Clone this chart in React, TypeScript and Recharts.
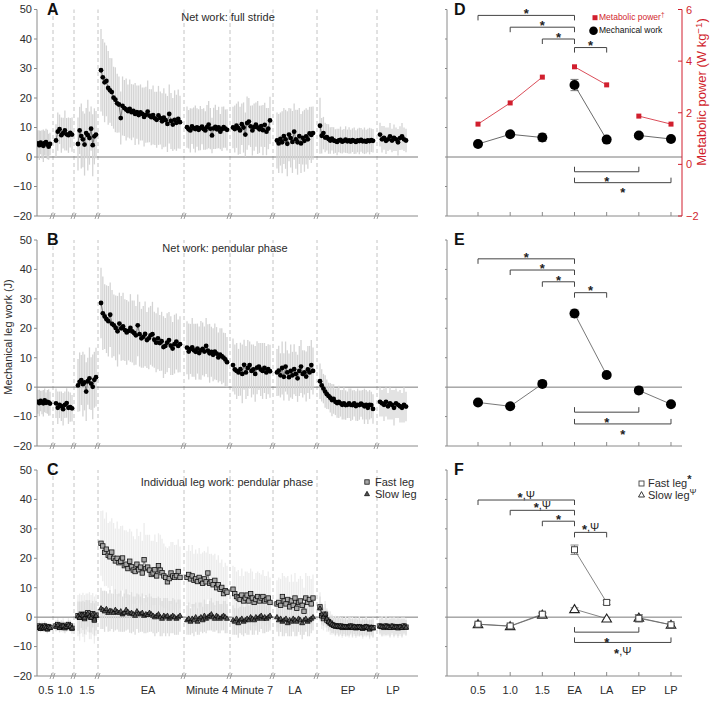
import React from 'react';
import { ComposedChart, Scatter, XAxis, YAxis, ErrorBar, ReferenceLine, ReferenceDot } from 'recharts';

const FONT = '"Liberation Sans", Arial, Helvetica, sans-serif';
const AXIS = '#8a8a8a';
const TXT = '#2b2b2b';
const RED = '#d11f2e';

// ---------------- stride-by-stride data (left panels) ----------------
const groupLabels = ['0.5', '1.0', '1.5', 'EA', 'Minute 4', 'Minute 7', 'LA', 'EP', 'LP'];

// A: net work, full stride
const aV05 = [4.6, 4.0, 4.9, 4.3, 3.8, 4.7, 5.0, 4.2, 3.5, 4.4];
const aS05 = [4.5, 5.0, 4.0, 4.8, 5.5, 4.2, 4.6, 5.0, 4.4, 3.8];
const aV10 = [5.6, 8.6, 9.4, 7.4, 8.1, 9.0, 7.7, 7.4, 8.2, 7.6];
const aS10 = [5.5, 6.5, 5.0, 6.0, 5.2, 6.8, 5.5, 6.0, 5.0, 5.8];
const aV15 = [4.4, 9.0, 7.1, 6.0, 4.2, 8.1, 7.4, 6.4, 9.6, 4.0, 7.0, 7.6];
const aS15 = [9.0, 8.0, 11.0, 9.5, 10.5, 8.5, 12.0, 9.0, 7.5, 10.5, 9.5, 8.0];
const aVEA = [29.4, 27.0, 25.3, 25.8, 23.4, 22.6, 22.0, 20.1, 19.4, 18.2, 17.8, 13.2, 17.3, 16.6, 16.1, 15.6, 16.3, 15.2, 15.6, 14.6, 15.2, 14.2, 15.1, 14.6, 13.6, 14.3, 15.4, 14.0, 13.5, 14.2, 13.1, 12.6, 14.1, 13.2, 12.1, 13.3, 12.5, 11.2, 14.6, 12.2, 11.0, 12.6, 11.6, 12.9, 11.8];
const aSEA = [14, 13, 13.5, 12, 12.5, 11, 11.5, 10.5, 11, 10, 9.5, 9, 10, 9.5, 10.5, 9, 10, 9.5, 9, 10.5, 9, 10, 9.5, 9, 10, 9.5, 10.5, 9, 9.5, 10, 9, 9.5, 10, 9, 9.5, 10, 9, 9.5, 10, 9.5, 9, 10, 9.5, 10, 9];
const aVM4 = [10.1, 9.4, 9.0, 10.4, 9.8, 9.5, 10.0, 9.2, 9.8, 10.3, 9.5, 9.0, 10.1, 11.0, 9.6, 7.3, 9.7, 10.2, 9.4, 10.0, 8.6, 9.5, 10.1, 9.6, 9.2];
const aSM4 = [7, 6.5, 7.5, 6, 7, 8, 6.5, 7, 7.5, 6, 7, 6.5, 7.5, 8, 7, 6, 7, 7.5, 6.5, 7, 6, 7.5, 7, 6.5, 7];
const aVM7 = [10.0, 9.5, 10.6, 9.8, 9.0, 11.1, 10.0, 7.6, 11.5, 12.0, 10.4, 9.0, 10.1, 11.0, 10.0, 9.4, 10.5, 9.1, 10.9, 8.6, 9.6, 12.4];
const aSM7 = [7, 8, 7.5, 9, 8, 7, 8.5, 7.5, 9, 8, 7, 8.5, 8, 7.5, 9, 8, 7, 8.5, 7.5, 8, 7, 8];
const aVLA = [5.6, 4.6, 6.1, 5.0, 7.1, 6.0, 4.5, 7.6, 6.4, 5.1, 8.6, 6.0, 5.0, 7.1, 4.6, 6.5, 5.5, 7.0, 6.0, 8.0, 7.5, 8.1];
const aSLA = [9.5, 10, 9, 10.5, 9.5, 10, 11, 9, 10, 10.5, 9.5, 10, 11, 9.5, 10, 9, 10.5, 9.5, 10, 9, 9.5, 9];
const aVEP = [10.6, 7.2, 8.1, 6.6, 6.7, 6.1, 5.6, 6.2, 5.6, 5.4, 5.1, 5.6, 5.8, 5.2, 5.5, 5.9, 5.3, 5.6, 5.2, 5.7, 5.5, 5.1, 5.6, 5.4, 5.8, 5.3, 5.5, 5.2, 5.6, 5.4, 5.7, 5.5];
const aSEP = [9.5, 6, 5.5, 5, 4.5, 5, 4.5, 4, 4.5, 4, 4.5, 4, 4.5, 4, 4, 4.5, 4, 4.5, 4, 4, 4.5, 4, 4, 4.5, 4, 4, 4.5, 4, 4, 4.5, 4, 4];
const aVLP = [7.6, 6.0, 6.5, 5.5, 6.0, 7.0, 5.6, 6.5, 6.0, 5.0, 6.4, 7.0, 6.0, 5.6];
const aSLP = [4, 4.5, 4, 4.5, 4, 4.5, 4, 4.5, 4, 4.5, 4, 4.5, 4, 4];

// B: net work, pendular phase
const bV05 = [-5.0, -5.4, -4.7, -5.2, -5.5, -4.5, -5.3, -5.0, -5.2, -5.6];
const bS05 = [4, 4.5, 3.5, 4, 4.5, 4, 3.5, 4, 4.5, 4];
const bV10 = [-5.5, -7.0, -6.0, -6.5, -7.5, -6.0, -5.4, -7.0, -6.8, -7.2];
const bS10 = [5, 5.5, 4.5, 5, 5.5, 4.5, 5, 5.5, 5, 4.5];
const bV15 = [0.6, 1.8, 2.4, 1.0, 1.6, -1.5, 2.0, 3.0, 1.2, 0.1, 2.5, 3.4];
const bS15 = [9, 10, 8.5, 11, 9.5, 10, 8, 10.5, 9, 11, 9.5, 10];
const bVEA = [28.6, 25.1, 24.0, 23.1, 22.4, 24.6, 21.5, 21.0, 20.1, 19.0, 21.6, 20.0, 20.6, 19.4, 18.6, 19.1, 20.1, 18.9, 18.4, 17.6, 21.0, 18.0, 16.6, 17.1, 18.1, 16.0, 16.6, 17.6, 18.0, 16.1, 15.1, 16.6, 15.0, 15.6, 13.6, 14.0, 15.1, 16.0, 14.1, 13.1, 14.6, 15.5, 14.0, 14.6];
const bSEA = [12, 12.5, 11, 11.5, 12, 11, 11.5, 10.5, 11, 12, 10.5, 11, 11.5, 10.5, 11, 10, 11.5, 10.5, 11, 10, 10.5, 11, 10, 10.5, 11, 9.5, 10.5, 10, 11, 9.5, 10, 10.5, 9.5, 10, 10.5, 9.5, 10, 9.5, 10, 9, 10, 9.5, 9, 9.5];
const bVM4 = [13.4, 12.1, 13.0, 13.5, 12.5, 12.0, 13.1, 11.6, 12.5, 13.0, 12.1, 14.0, 12.4, 11.5, 12.0, 11.0, 12.1, 11.4, 10.1, 11.0, 10.5, 10.0, 9.4, 8.5];
const bSM4 = [9, 9.5, 8.5, 10, 9, 9.5, 8.5, 9, 10, 9, 8.5, 9.5, 9, 10, 8.5, 9, 9.5, 9, 8.5, 9, 9.5, 8.5, 9, 8.5];
const bVM7 = [7.5, 6.0, 5.5, 5.0, 6.1, 4.5, 7.6, 5.0, 6.5, 7.5, 5.5, 6.0, 4.5, 6.6, 7.0, 6.0, 5.5, 6.5, 5.0, 6.1, 5.4];
const bSM7 = [9, 8.5, 9.5, 8, 9, 10, 8.5, 9, 9.5, 8, 9, 8.5, 9.5, 9, 8, 9, 9.5, 8.5, 9, 8.5, 9];
const bVLA = [5.0, 5.6, 4.0, 6.5, 3.5, 7.0, 5.0, 3.4, 5.5, 4.0, 6.1, 4.5, 3.0, 5.5, 7.0, 4.5, 5.0, 3.6, 6.0, 5.0, 7.5, 5.5];
const bSLA = [8, 8.5, 7.5, 9, 8, 8.5, 7.5, 8, 9, 8, 8.5, 7.5, 8, 8.5, 9, 8, 7.5, 8.5, 8, 9, 8.5, 8];
const bVEP = [2.0, 0.6, -0.5, -1.5, -2.4, -3.0, -3.6, -4.4, -4.0, -5.0, -5.4, -5.0, -5.5, -6.0, -5.5, -6.1, -6.0, -5.5, -6.0, -6.1, -5.5, -6.4, -6.0, -6.1, -5.6, -6.0, -6.5, -6.0, -7.0, -6.0, -6.1, -7.4];
const bSEP = [6, 5.5, 5, 5.5, 5, 4.5, 5, 5.5, 5, 4.5, 5, 5.5, 4.5, 5, 5.5, 5, 4.5, 5, 5.5, 5, 4.5, 5, 5.5, 5, 4.5, 5, 6, 5, 5.5, 5, 4.5, 5];
const bVLP = [-5.0, -5.5, -6.0, -5.0, -6.5, -5.5, -6.0, -7.0, -5.5, -6.0, -6.5, -7.0, -6.0, -6.6];
const bSLP = [5, 4.5, 5.5, 5, 4.5, 5.5, 5, 6, 5, 4.5, 5.5, 5, 6, 5];

// C: individual leg work, pendular phase — fast leg
const fV05 = [-3.4, -3.0, -3.8, -3.2, -3.6, -3.0, -3.4, -4.0, -3.3, -3.5];
const fS05 = [1.5, 1.8, 1.4, 1.6, 1.5, 1.7, 1.5, 1.6, 1.4, 1.5];
const fV10 = [-3.0, -2.5, -3.5, -3.0, -2.8, -3.6, -3.2, -2.5, -3.0, -3.8];
const fS10 = [2, 2.2, 1.8, 2, 2.4, 2, 1.8, 2.2, 2, 1.9];
const fV15 = [0.5, 0.0, 1.0, 0.8, -0.5, 1.0, 1.5, 0.5, 0.0, 1.2, -1.0, 0.7];
const fS15 = [7, 8, 6.5, 7.5, 8, 7, 6.5, 8, 7.5, 7, 8, 7];
const fVEA = [25.1, 24.2, 22.0, 23.1, 21.0, 20.5, 22.1, 20.0, 19.1, 20.0, 18.5, 19.0, 20.1, 17.5, 18.0, 16.5, 19.0, 17.1, 16.0, 15.5, 18.0, 16.1, 17.0, 15.0, 19.5, 16.5, 17.0, 16.0, 14.5, 15.0, 16.1, 14.0, 17.5, 16.0, 15.1, 14.0, 13.5, 12.0, 13.1, 15.0, 14.0, 13.5, 14.1, 15.5, 13.5];
const fSEA = [11, 12, 11.5, 12.5, 11, 12, 11.5, 12, 11, 12.5, 11.5, 12, 11, 12, 11.5, 12.5, 11, 12, 11.5, 11, 12, 11.5, 12, 11, 12.5, 11.5, 11, 12, 11.5, 11, 12, 11.5, 11, 12, 11.5, 11, 10.5, 11.5, 11, 10.5, 11.5, 11, 10.5, 11, 10.5];
const fVM4 = [13.5, 14.5, 13.0, 14.0, 12.5, 13.0, 12.1, 13.5, 12.5, 11.5, 13.0, 12.0, 15.0, 11.5, 12.0, 11.0, 12.5, 10.0, 11.0, 9.5, 10.1, 8.0, 9.0, 8.5];
const fSM4 = [9, 10, 9.5, 10.5, 9, 10, 9.5, 10, 9, 10.5, 9.5, 10, 9, 10, 9.5, 10, 9, 9.5, 10, 9, 9.5, 9, 9.5, 9];
const fVM7 = [9.5, 8.0, 7.0, 6.5, 6.0, 7.5, 5.5, 6.5, 7.5, 5.5, 8.0, 6.5, 5.0, 6.0, 7.0, 5.5, 6.5, 7.0, 5.5, 6.0, 6.5, 5.0];
const fSM7 = [8, 9, 8.5, 9.5, 8, 9, 8.5, 9, 8, 9.5, 8.5, 9, 8, 9, 8.5, 9.5, 8, 9, 8.5, 8, 9, 8.5];
const fVLA = [4.5, 5.0, 4.0, 7.0, 5.5, 4.5, 6.0, 3.5, 5.5, 4.0, 6.5, 3.0, 5.0, 5.5, 4.0, 2.0, 6.5, 5.0, 6.0, 4.5, 6.5];
const fSLA = [8, 8.5, 9, 8, 8.5, 9, 8, 8.5, 9, 8, 8.5, 9, 8, 8.5, 9, 8, 8.5, 9, 8, 8.5, 8];
const fVEP = [3.5, 0.5, -0.5, 1.0, -1.0, -1.5, -2.0, -2.5, -2.8, -3.0, -3.0, -3.2, -3.0, -3.5, -3.3, -3.2, -3.5, -3.4, -3.0, -3.5, -3.3, -3.6, -3.5, -3.2, -3.5, -3.8, -3.5, -3.3, -3.5, -4.0, -3.5, -3.6];
const fSEP = [5, 4.5, 4, 4.5, 4, 3.5, 4, 3.5, 3, 3.5, 3, 3.5, 3, 3.5, 3, 3.5, 3, 3.5, 3, 3.5, 3, 3.5, 3, 3.5, 3, 3.5, 3, 3.5, 3, 3.5, 3, 3.5];
const fVLP = [-3.0, -3.2, -3.5, -3.0, -3.3, -3.5, -3.1, -3.4, -3.2, -3.6, -3.3, -3.5, -3.0, -3.4];
const fSLP = [3, 3.5, 3, 3.5, 3, 3.5, 3, 3.5, 3, 3.5, 3, 3.5, 3, 3];

// C: slow leg
const sV05 = [-3.6, -3.2, -3.9, -3.4, -3.7, -3.1, -3.5, -4.0, -3.3, -3.6];
const sS05 = [1.2, 1.4, 1.1, 1.3, 1.2, 1.4, 1.2, 1.3, 1.1, 1.2];
const sV10 = [-3.2, -2.7, -3.6, -3.1, -2.9, -3.5, -3.3, -2.7, -3.1, -3.7];
const sS10 = [1.5, 1.7, 1.4, 1.6, 1.5, 1.7, 1.5, 1.6, 1.4, 1.5];
const sV15 = [0.3, -0.2, 0.8, 0.6, -0.3, 0.8, 1.2, 0.3, -0.2, 1.0, -0.8, 0.5];
const sS15 = [5, 5.5, 4.5, 5, 5.5, 5, 4.5, 5.5, 5, 4.5, 5.5, 5];
const sVEA = [3.0, 2.5, 2.0, 2.8, 1.5, 2.2, 2.0, 1.5, 2.5, 1.8, 1.5, 2.0, 1.0, 1.5, 2.5, 1.8, 1.2, 1.5, 1.0, 0.5, 2.0, 1.2, 1.0, 1.5, 0.5, 1.0, 0.8, 1.5, 1.0, 0.5, 0.0, 0.5, 1.0, 0.0, -0.5, 0.5, 0.0, 0.5, -0.5, 0.0, 0.5, 0.0, -0.5, 0.0, 0.5];
const sSEA = [7, 6.5, 7, 6, 6.5, 7, 6, 6.5, 7, 6, 6.5, 7, 6, 6.5, 7, 6, 6.5, 7, 6, 6.5, 6, 6.5, 6, 6.5, 6, 6.5, 6, 6.5, 6, 6, 6.5, 6, 6, 6.5, 6, 6, 6.5, 6, 6, 5.5, 6, 6, 5.5, 6, 5.5];
const sVM4 = [-1.0, -0.5, -1.5, -0.5, -1.0, 0.0, -1.5, -0.5, 0.0, -1.0, 0.5, -0.5, 0.0, 0.5, 1.0, 0.0, -0.5, 0.5, 0.0, -0.5, 0.0, 0.5, 0.0, -0.5];
const sSM4 = [5, 5.5, 4.5, 5, 5.5, 5, 4.5, 5.5, 5, 4.5, 5.5, 5, 4.5, 5, 5.5, 5, 4.5, 5, 5.5, 5, 4.5, 5, 5.5, 5];
const sVM7 = [-1.0, -1.5, -0.5, -2.0, -1.0, -0.5, -1.5, -1.0, -0.5, -1.0, 0.0, -0.5, -1.0, 0.0, -0.5, 0.0, 0.5, -0.5, 0.0, -0.5, 0.0, 0.5];
const sSM7 = [5, 4.5, 5.5, 5, 4.5, 5.5, 5, 4.5, 5.5, 5, 4.5, 5.5, 5, 4.5, 5.5, 5, 4.5, 5, 5.5, 4.5, 5, 5];
const sVLA = [0.0, -1.0, -0.5, -1.5, -1.0, -0.5, -2.0, -1.0, -1.5, -0.5, -1.0, -1.5, -0.5, -1.0, -2.0, -1.0, -0.5, -1.5, -1.0, -0.5, 0.0];
const sSLA = [5, 5.5, 4.5, 5, 5.5, 5, 4.5, 5.5, 5, 4.5, 5.5, 5, 4.5, 5, 5.5, 5, 4.5, 5, 5.5, 5, 4.5];
const sVEP = [3.0, 1.0, 0.0, 1.0, -0.5, -1.5, -2.0, -2.4, -2.8, -3.1, -3.0, -3.3, -3.1, -3.4, -3.2, -3.3, -3.5, -3.3, -3.1, -3.6, -3.2, -3.5, -3.4, -3.3, -3.6, -3.7, -3.4, -3.2, -3.6, -3.9, -3.5, -3.7];
const sSEP = [4, 3.5, 3, 3.5, 3, 3, 2.5, 3, 2.5, 3, 2.5, 3, 2.5, 3, 2.5, 3, 2.5, 3, 2.5, 3, 2.5, 3, 2.5, 3, 2.5, 3, 2.5, 3, 2.5, 3, 2.5, 3];
const sVLP = [-3.1, -3.3, -3.4, -3.1, -3.4, -3.6, -3.0, -3.5, -3.3, -3.5, -3.2, -3.6, -3.1, -3.5];
const sSLP = [2.5, 3, 2.5, 3, 2.5, 3, 2.5, 3, 2.5, 3, 2.5, 3, 2.5, 2.5];

// ---------------- summary data (right panels) ----------------
const summaryCats = ['0.5', '1.0', '1.5', 'EA', 'LA', 'EP', 'LP'];
const strideWorkMean = [4.4, 7.7, 6.6, 24.4, 5.9, 7.3, 6.1];
const strideWorkErr = [0.5, 0.8, 1.3, 1.9, 0.5, 0.7, 0.5];
const metabolicPower = [1.56, 2.38, 3.38, 3.78, 3.08, 1.87, 1.56];
const pendularMean = [-5.2, -6.5, 1.1, 25.0, 4.1, -1.1, -5.8];
const pendularErr = [0.5, 0.6, 0.6, 1.3, 0.9, 1.2, 0.5];
const fastLegMean = [-2.4, -3.0, 1.0, 22.9, 5.0, -0.4, -2.6];
const fastLegErr = [0.4, 0.5, 0.6, 1.6, 0.7, 1.3, 0.4];
const slowLegMean = [-2.4, -3.1, 0.8, 2.7, -0.5, -0.2, -2.6];
const slowLegErr = [0.3, 0.4, 0.4, 0.5, 0.4, 0.5, 0.3];

// significance brackets (category indices, level in J)
const bracketsD = [
  { a: 0, b: 3, y: 48.0, t: '*' }, { a: 1, b: 3, y: 44.0, t: '*' }, { a: 2, b: 3, y: 40.0, t: '*' },
  { a: 3, b: 4, y: 37.1, t: '*' }, { a: 3, b: 5, y: -5.0, t: '*', below: true }, { a: 3, b: 6, y: -8.7, t: '*', below: true },
];
const bracketsE = [
  { a: 0, b: 3, y: 43.6, t: '*' }, { a: 1, b: 3, y: 39.8, t: '*' }, { a: 2, b: 3, y: 35.8, t: '*' },
  { a: 3, b: 4, y: 32.1, t: '*' }, { a: 3, b: 5, y: -8.5, t: '*', below: true }, { a: 3, b: 6, y: -12.5, t: '*', below: true },
];
const bracketsF = [
  { a: 0, b: 3, y: 39.8, t: '*,\u03A8' }, { a: 1, b: 3, y: 36.3, t: '*,\u03A8' }, { a: 2, b: 3, y: 32.6, t: '*' },
  { a: 3, b: 4, y: 28.8, t: '*,\u03A8' }, { a: 3, b: 5, y: -5.1, t: '*', below: true }, { a: 3, b: 6, y: -8.6, t: '*,\u03A8', below: true },
];

// ---------------- layout constants ----------------
const GROUP_SPAN = [[1, 13], [19, 35], [41, 59], [64, 143], [150, 190], [196, 233], [240, 276], [283, 336], [343, 369]];
const BREAKS = [16, 37, 61, 147, 193, 236, 280, 340];
const LABEL_X = [9, 28, 50, 111, 170, 215, 258, 311, 356];
const Y_TICKS = [-20, -10, 0, 10, 20, 30, 40, 50];
const SEGMENTS = [[0, 1, 2], [3, 4], [5, 6]];
const R_DOMAIN = [-0.964, 6.342];

const fmt = (v: number) => (v < 0 ? '\u2212' + Math.abs(v) : String(v));

const build = (vals: number[], sds: number[], g: number) => {
  const [s, e] = GROUP_SPAN[g];
  const n = vals.length;
  return vals.map((v, i) => ({
    x: n > 1 ? s + (i * (e - s)) / (n - 1) : (s + e) / 2,
    y: v,
    e: sds[i] ?? sds[sds.length - 1],
  }));
};

// ---------------- shapes ----------------
const NoShape = () => <g />;
const Dot = (p: any) => (p.cx == null ? <g /> : <circle cx={p.cx} cy={p.cy} r={2.4} fill="#000" />);
const SmallSq = (p: any) =>
  p.cx == null ? <g /> : <rect x={p.cx - 2.2} y={p.cy - 2.2} width={4.4} height={4.4} fill="#a8a8a8" stroke="#111" strokeWidth={0.8} />;
const SmallTri = (p: any) =>
  p.cx == null ? <g /> : (
    <path d={`M${p.cx},${p.cy - 2.7}L${p.cx + 2.5},${p.cy + 1.7}L${p.cx - 2.5},${p.cy + 1.7}Z`} fill="#555" stroke="#000" strokeWidth={0.7} />
  );
const BigDot = (p: any) => (p.cx == null ? <g /> : <circle cx={p.cx} cy={p.cy} r={5} fill="#000" />);
const RedSq = (p: any) => (p.cx == null ? <g /> : <rect x={p.cx - 2.5} y={p.cy - 2.5} width={5} height={5} fill={RED} />);
const FastSq = (p: any) =>
  p.cx == null ? <g /> : <rect x={p.cx - 3} y={p.cy - 3} width={6} height={6} fill="#fff" stroke="#444" strokeWidth={1} />;
const SlowTri = (p: any) =>
  p.cx == null ? <g /> : (
    <path d={`M${p.cx},${p.cy - 4.6}L${p.cx + 4.8},${p.cy + 3.4}L${p.cx - 4.8},${p.cy + 3.4}Z`} fill="#fff" stroke="#222" strokeWidth={1.1} />
  );
const BreakMark = (p: any) =>
  p.cx == null ? <g /> : (
    <g stroke="#8a8a8a" strokeWidth={0.8}>
      <line x1={p.cx - 3} y1={p.cy + 3} x2={p.cx - 1} y2={p.cy - 3} />
      <line x1={p.cx} y1={p.cy + 3} x2={p.cx + 2} y2={p.cy - 3} />
    </g>
  );
const labelShape = (t: string, below: boolean) => (p: any) => {
  if (p.cx == null) return <g />;
  const starOnly = t === '*';
  const base = starOnly ? (below ? 14.6 : 2.8) : below ? 12.5 : -1.5;
  return (
    <text x={p.cx} y={p.cy + base} textAnchor="middle" fontSize={11} fill="#222" fontFamily={FONT}>
      {starOnly ? (
        <tspan fontSize={13} fontWeight={700}>*</tspan>
      ) : (
        <>
          <tspan fontSize={13} fontWeight={700} dy={3}>*</tspan>
          <tspan dy={-3}>{t.slice(1)}</tspan>
        </>
      )}
    </text>
  );
};

// ---------------- html text helpers ----------------
function T({ x, y, size = 11, color = TXT, anchor = 'start', bold = false, children }: any) {
  const tx = anchor === 'middle' ? 'translateX(-50%)' : anchor === 'end' ? 'translateX(-100%)' : 'none';
  return (
    <div style={{ position: 'absolute', left: x, top: y - size * 0.8465, fontSize: size, lineHeight: `${size}px`, color, fontWeight: bold ? 700 : 400, whiteSpace: 'nowrap', transform: tx }}>
      {children}
    </div>
  );
}
function VT({ cx, cy, size = 11, color = TXT, children }: any) {
  return (
    <div style={{ position: 'absolute', left: cx, top: cy, fontSize: size, lineHeight: `${size}px`, color, whiteSpace: 'nowrap', transform: 'translate(-50%,-50%) rotate(-90deg)' }}>
      {children}
    </div>
  );
}
const sup = (s: string, extra: any = {}) => (
  <span style={{ fontSize: '0.75em', position: 'relative', top: '-0.45em', ...extra }}>{s}</span>
);

// ---------------- left panels ----------------
type Series = { vals: number[][]; sds: number[][]; errColor: string; shape: any; lineColor: string };

function leftLayers(series: Series[], pfx: string) {
  const errs: any[] = [];
  const pts: any[] = [];
  series.forEach((s, si) => {
    s.vals.forEach((vals, g) => {
      const data = build(vals, s.sds[g], g);
      errs.push(
        <Scatter key={`${pfx}e${si}-${g}`} data={data} shape={NoShape} isAnimationActive={false}>
          <ErrorBar dataKey="e" direction="y" width={0} stroke={s.errColor} strokeWidth={1.3} />
        </Scatter>
      );
      pts.push(
        <Scatter key={`${pfx}p${si}-${g}`} data={data} shape={s.shape} line={{ stroke: s.lineColor, strokeWidth: 0.6 }} lineType="joint" isAnimationActive={false} />
      );
    });
  });
  return [...errs, ...pts];
}

const CatTick = (p: any) => {
  const idx = LABEL_X.indexOf(p.payload.value);
  return (
    <text x={p.x} y={p.y + 18} textAnchor="middle" fontSize={11} fill={TXT} fontFamily={FONT}>
      {groupLabels[idx]}
    </text>
  );
};

function LeftPanel({ top, height, marginTop, xAxisH, labels, series, pfx }: any) {
  return (
    <div style={{ position: 'absolute', left: 0, top, width: 430, height }}>
      <ComposedChart width={430} height={height} margin={{ top: marginTop, right: 12, left: 0, bottom: 0 }}>
        <XAxis type="number" dataKey="x" domain={[0, 381]} allowDataOverflow ticks={labels ? LABEL_X : []} interval={0}
          height={xAxisH} axisLine={{ stroke: AXIS }} tickLine={false} tickSize={0} tickMargin={0} tick={labels ? CatTick : false} />
        <YAxis type="number" dataKey="y" domain={[-20, 50]} ticks={Y_TICKS} interval={0} width={37} tickSize={3}
          axisLine={{ stroke: AXIS }} tickLine={{ stroke: AXIS }} tickFormatter={fmt}
          tick={{ fontSize: 11, fill: TXT, fontFamily: FONT }} />
        {BREAKS.map((b) => (
          <ReferenceLine key={`${pfx}b${b}`} x={b} stroke="#c4c4c4" strokeDasharray="4 3" />
        ))}
        <ReferenceLine y={0} stroke="#7a7a7a" />
        {leftLayers(series, pfx)}
        {BREAKS.map((b) => (
          <ReferenceDot key={`${pfx}m${b}`} x={b} y={-20} r={0} shape={BreakMark} />
        ))}
      </ComposedChart>
    </div>
  );
}

// ---------------- right panels ----------------
function bracketEls(list: any[], yId: string, pfx: string) {
  const TK = 1.7;
  const out: any[] = [];
  list.forEach((b, i) => {
    const end = b.below ? b.y + TK : b.y - TK;
    const st = { stroke: '#444', strokeWidth: 1 };
    out.push(<ReferenceLine key={`${pfx}h${i}`} yAxisId={yId} segment={[{ x: b.a, y: b.y }, { x: b.b, y: b.y }]} {...st} />);
    out.push(<ReferenceLine key={`${pfx}l${i}`} yAxisId={yId} segment={[{ x: b.a, y: b.y }, { x: b.a, y: end }]} {...st} />);
    out.push(<ReferenceLine key={`${pfx}r${i}`} yAxisId={yId} segment={[{ x: b.b, y: b.y }, { x: b.b, y: end }]} {...st} />);
    out.push(<ReferenceDot key={`${pfx}t${i}`} yAxisId={yId} x={(b.a + b.b) / 2} y={b.y} r={0} shape={labelShape(b.t, !!b.below)} />);
  });
  return out;
}

function segScatters(vals: number[], errs: number[] | null, yId: string, shape: any, lineColor: string, errColor: string, pfx: string) {
  const pts = vals.map((v, i) => ({ x: i, y: v, e: errs ? errs[i] : 0 }));
  return SEGMENTS.map((seg, k) => (
    <Scatter key={`${pfx}${k}`} yAxisId={yId} data={seg.map((i) => pts[i])} shape={shape}
      line={{ stroke: lineColor, strokeWidth: 0.8 }} lineType="joint" isAnimationActive={false}>
      {errs ? <ErrorBar dataKey="e" direction="y" width={4} stroke={errColor} strokeWidth={1} /> : null}
    </Scatter>
  ));
}

const rightTick = (showLabel: boolean) => (p: any) => (
  <g>
    <line x1={p.x} x2={p.x} y1={p.y} y2={p.y - 4} stroke={AXIS} />
    {showLabel ? (
      <text x={p.x} y={p.y + 18} textAnchor="middle" fontSize={11} fill={TXT} fontFamily={FONT}>
        {summaryCats[p.payload.value]}
      </text>
    ) : null}
  </g>
);

const RedTick = (p: any) => (
  <g>
    <line x1={p.x} x2={p.x - 4} y1={p.y} y2={p.y} stroke={RED} />
    <text x={p.x + 4} y={p.y + 4} fontSize={11} fill={RED} fontFamily={FONT}>{fmt(p.payload.value)}</text>
  </g>
);

function RightPanel({ top, height, marginTop, xAxisH, labels, red, children }: any) {
  return (
    <div style={{ position: 'absolute', left: 437, top, width: 274, height }}>
      <ComposedChart width={274} height={height} margin={{ top: marginTop, right: red ? 0 : 29, left: 0, bottom: 0 }}>
        <XAxis type="number" dataKey="x" domain={R_DOMAIN} allowDataOverflow ticks={[0, 1, 2, 3, 4, 5, 6]} interval={0}
          height={xAxisH} axisLine={{ stroke: AXIS }} tickLine={false} tickSize={0} tickMargin={0} tick={rightTick(labels)} />
        <YAxis yAxisId="l" type="number" dataKey="y" domain={[-20, 50]} ticks={Y_TICKS} interval={0} width={10} tickSize={2}
          axisLine={{ stroke: AXIS }} tickLine={{ stroke: AXIS }} tickFormatter={() => ''} />
        {red ? (
          <YAxis yAxisId="r" orientation="right" type="number" dataKey="y" domain={[-2, 6]} ticks={[-2, 0, 2, 4, 6]} interval={0}
            width={29} axisLine={{ stroke: RED }} tickLine={false} tickSize={0} tickMargin={0} tick={RedTick} />
        ) : null}
        <ReferenceLine yAxisId="l" y={0} stroke="#7a7a7a" />
        {children}
      </ComposedChart>
    </div>
  );
}

export default function App() {
  const seriesA: Series[] = [{
    vals: [aV05, aV10, aV15, aVEA, aVM4, aVM7, aVLA, aVEP, aVLP],
    sds: [aS05, aS10, aS15, aSEA, aSM4, aSM7, aSLA, aSEP, aSLP],
    errColor: '#d4d4d4', shape: Dot, lineColor: '#333',
  }];
  const seriesB: Series[] = [{
    vals: [bV05, bV10, bV15, bVEA, bVM4, bVM7, bVLA, bVEP, bVLP],
    sds: [bS05, bS10, bS15, bSEA, bSM4, bSM7, bSLA, bSEP, bSLP],
    errColor: '#d4d4d4', shape: Dot, lineColor: '#333',
  }];
  const seriesC: Series[] = [
    {
      vals: [fV05, fV10, fV15, fVEA, fVM4, fVM7, fVLA, fVEP, fVLP],
      sds: [fS05, fS10, fS15, fSEA, fSM4, fSM7, fSLA, fSEP, fSLP],
      errColor: '#ececec', shape: SmallSq, lineColor: '#444',
    },
    {
      vals: [sV05, sV10, sV15, sVEA, sVM4, sVM7, sVLA, sVEP, sVLP],
      sds: [sS05, sS10, sS15, sSEA, sSM4, sSM7, sSLA, sSEP, sSLP],
      errColor: '#dcdcdc', shape: SmallTri, lineColor: '#333',
    },
  ];

  return (
    <div style={{ position: 'absolute', left: 0, top: 0, width: 711, height: 706, background: '#fff', fontFamily: FONT, overflow: 'hidden' }}>
      <LeftPanel top={0} height={230} marginTop={9.5} xAxisH={14} labels={false} series={seriesA} pfx="A" />
      <LeftPanel top={230} height={230} marginTop={10} xAxisH={14} labels={false} series={seriesB} pfx="B" />
      <LeftPanel top={460} height={246} marginTop={10} xAxisH={30} labels={true} series={seriesC} pfx="C" />

      <RightPanel top={0} height={230} marginTop={9.5} xAxisH={14} labels={false} red>
        {segScatters(metabolicPower, null, 'r', RedSq, RED, RED, 'Dr')}
        {segScatters(strideWorkMean, strideWorkErr, 'l', BigDot, '#444', '#777', 'Dk')}
        {bracketEls(bracketsD, 'l', 'Db')}
      </RightPanel>
      <RightPanel top={230} height={230} marginTop={10} xAxisH={14} labels={false}>
        {segScatters(pendularMean, pendularErr, 'l', BigDot, '#555', '#888', 'Ek')}
        {bracketEls(bracketsE, 'l', 'Eb')}
      </RightPanel>
      <RightPanel top={460} height={246} marginTop={10} xAxisH={30} labels={true}>
        {segScatters(slowLegMean, slowLegErr, 'l', SlowTri, '#666', '#888', 'Fs')}
        {segScatters(fastLegMean, fastLegErr, 'l', FastSq, '#666', '#888', 'Ff')}
        {bracketEls(bracketsF, 'l', 'Fb')}
      </RightPanel>

      {/* panel letters */}
      <T x={47} y={16} size={16} bold color="#111">A</T>
      <T x={47} y={246} size={16} bold color="#111">B</T>
      <T x={47} y={476} size={16} bold color="#111">C</T>
      <T x={454} y={16} size={16} bold color="#111">D</T>
      <T x={454} y={246} size={16} bold color="#111">E</T>
      <T x={454} y={476} size={16} bold color="#111">F</T>

      {/* titles */}
      <T x={228} y={21} anchor="middle">Net work: full stride</T>
      <T x={225} y={252} anchor="middle">Net work: pendular phase</T>
      <T x={227} y={486} anchor="middle">Individual leg work: pendular phase</T>

      {/* axis labels */}
      <VT cx={8} cy={337} size={11}>Mechanical leg work (J)</VT>
      <VT cx={702} cy={92} size={13} color={RED}>
        Metabolic power (W kg{sup('\u22121')})
      </VT>

      {/* legend C */}
      <svg style={{ position: 'absolute', left: 362, top: 477, overflow: 'visible' }} width={10} height={22}>
        <rect x={2.8} y={2.8} width={4.4} height={4.4} fill="#a8a8a8" stroke="#111" strokeWidth={0.8} />
        <path d="M5,14.3L7.5,18.7L2.5,18.7Z" fill="#555" stroke="#000" strokeWidth={0.7} />
      </svg>
      <T x={375} y={486}>Fast leg</T>
      <T x={375} y={498}>Slow leg</T>

      {/* legend D */}
      <svg style={{ position: 'absolute', left: 588, top: 12, overflow: 'visible' }} width={12} height={24}>
        <rect x={4.5} y={3.2} width={5} height={5} fill={RED} />
        <circle cx={5.5} cy={18.7} r={4.3} fill="#000" />
      </svg>
      <T x={599} y={20.5} size={8.5} color={RED}>Metabolic power{sup('\u2020')}</T>
      <T x={599} y={33.5} size={8.5} color="#111">Mechanical work</T>

      {/* legend F */}
      <svg style={{ position: 'absolute', left: 636, top: 478, overflow: 'visible' }} width={12} height={22}>
        <rect x={3} y={3} width={5} height={5} fill="#fff" stroke="#444" strokeWidth={0.9} />
        <path d="M5.5,13.6L8.5,19L2.5,19Z" fill="#fff" stroke="#222" strokeWidth={0.9} />
      </svg>
      <T x={648} y={487}>Fast leg{sup('*', { fontWeight: 700, fontSize: '1em', top: '-0.3em' })}</T>
      <T x={648} y={499}>Slow leg{sup('\u03A8')}</T>
    </div>
  );
}
